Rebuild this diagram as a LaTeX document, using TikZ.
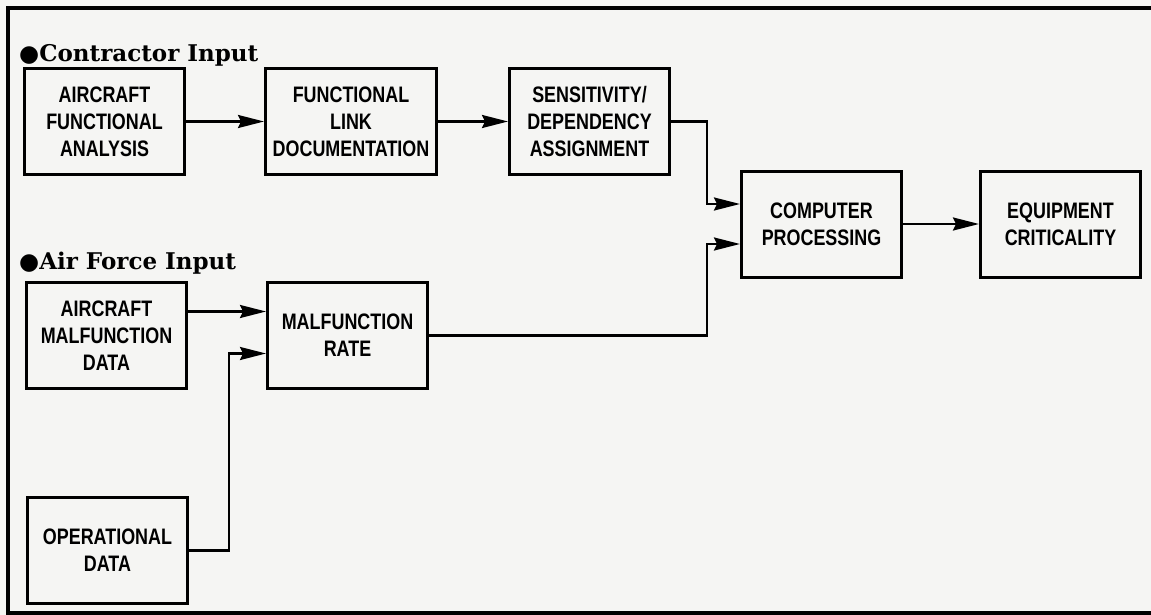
\documentclass[tikz,border=0pt]{standalone}
\usepackage{fontspec}
\usetikzlibrary{positioning,arrows.meta}
\newfontfamily\boxfont{Liberation Sans}[FakeStretch=0.8]
\newfontfamily\headfont{DejaVu Serif}
\newfontfamily\dotfont{DejaVu Sans}
\definecolor{paper}{RGB}{245,245,243}

\begin{document}
\begin{tikzpicture}[x=0.5pt,y=-0.5pt,->,>={Stealth[length=13pt,width=6.5pt,inset=1.5pt]},
                    line width=1.2pt,node distance=39pt,
                    main node/.style={rectangle,draw,line width=1.5pt,minimum width=80pt,minimum height=53pt,
                      align=center,inner sep=3pt,font=\boxfont\bfseries\fontsize{11.2}{13.5}\selectfont},
                    head node/.style={anchor=base west,inner sep=0pt,font=\headfont\bfseries\fontsize{11.5}{14}\selectfont}]

  \useasboundingbox (0,0) rectangle (1151,615);
  \fill[paper] (-10,-10) rectangle (1161,625);
  \draw[-,line width=2pt] (1161,8) -- (8,8) -- (8,613) -- (1161,613);

  \node[head node] (contractor) at (18,62) {{\dotfont ●}Contractor Input};
  \node[head node] (airforce) at (18,269) {{\dotfont ●}Air Force Input};

  \node[main node] (afa) at (104.5,121.5) {AIRCRAFT\\FUNCTIONAL\\ANALYSIS};
  \node[main node,minimum width=85.5pt] (fld) [right=of afa] {FUNCTIONAL\\LINK\\DOCUMENTATION};
  \node[main node] (sda) [right=35pt of fld] {SENSITIVITY/\\DEPENDENCY\\ASSIGNMENT};
  \node[main node] (cp) at (821.5,224) {COMPUTER\\PROCESSING};
  \node[main node] (ec) [right=38pt of cp] {EQUIPMENT\\CRITICALITY};
  \node[main node] (amd) at (106.5,335.5) {AIRCRAFT\\MALFUNCTION\\DATA};
  \node[main node] (mr) [right=of amd] {MALFUNCTION\\RATE};
  \node[main node] (od) at (107.5,550.5) {OPERATIONAL\\DATA};

  \path (afa) edge (fld)
        (fld) edge (sda)
        (cp) edge (ec);
  \draw ([yshift=12pt]amd.east) -- ([yshift=12pt]mr.west);
  \draw (sda.east) -- ++(36,0) |- ([yshift=10pt]cp.west);
  \draw (mr.east) -- ++(278,0) |- ([yshift=-10pt]cp.west);
  \draw (od.east) -- ++(40,0) |- ([yshift=-9pt]mr.west);
\end{tikzpicture}
\end{document}
